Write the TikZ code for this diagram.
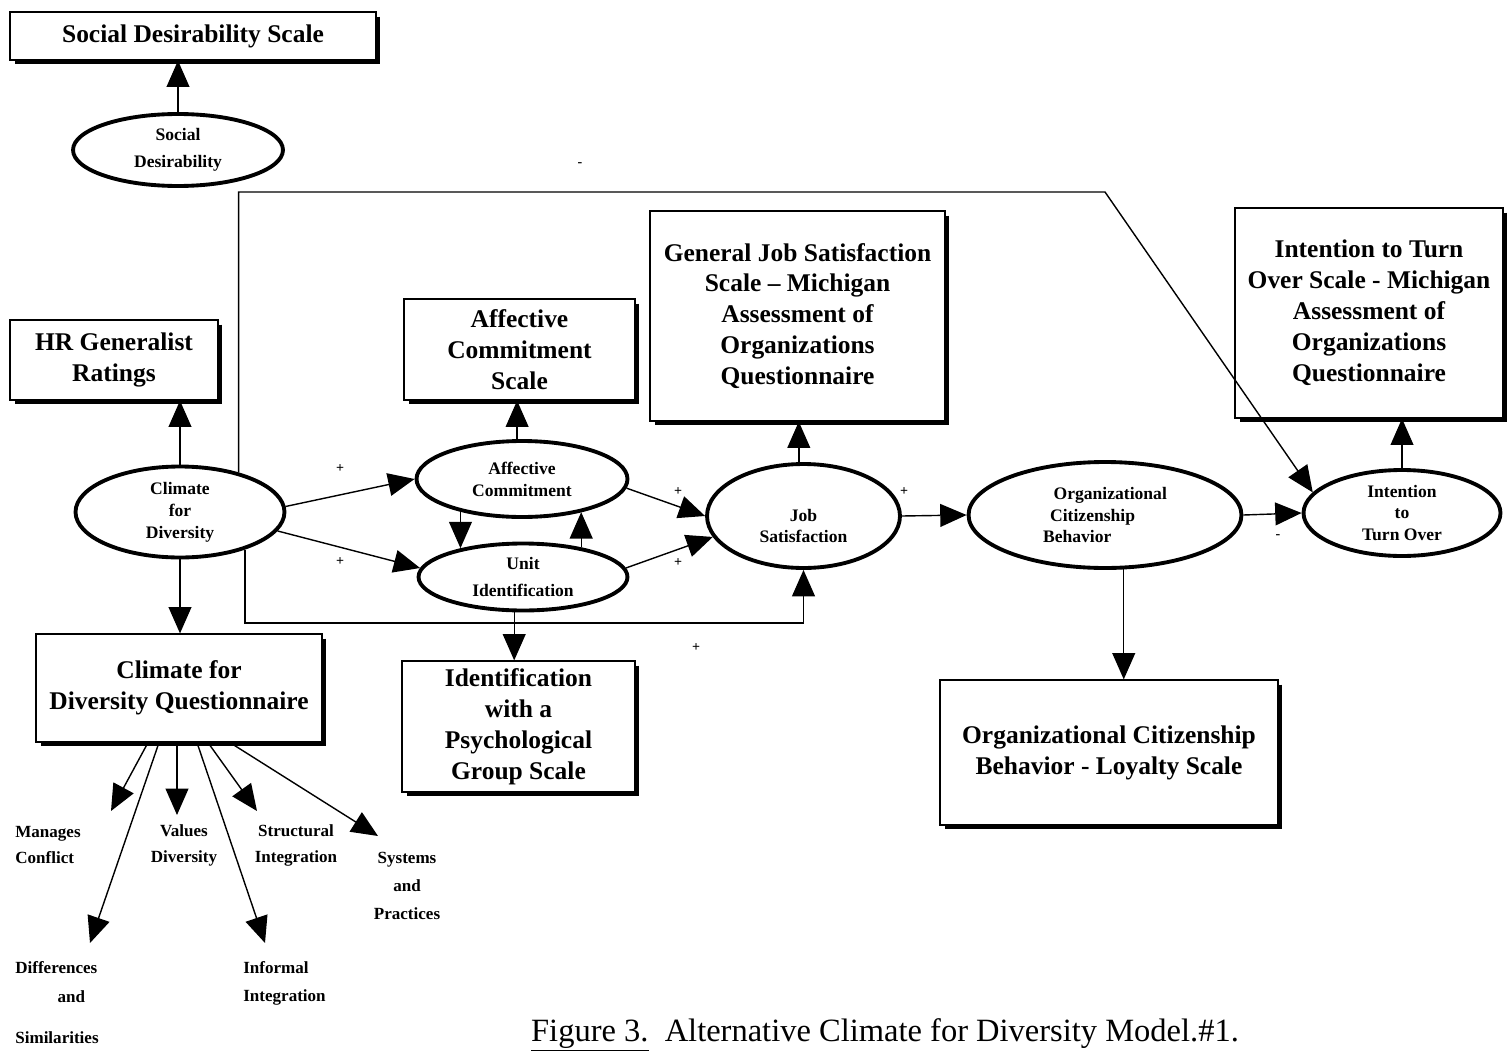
\documentclass[tikz,border=0pt]{standalone}
\usepackage{fontspec}
\setmainfont{Liberation Serif}
\usetikzlibrary{shapes.geometric,arrows.meta,calc}
\newcommand\bxfont{\bfseries\fontsize{14.5}{17.6}\selectfont}
\newcommand\ovfont{\bfseries\fontsize{10}{12.5}\selectfont}
\newcommand\tgfont{\bfseries\fontsize{9.7}{14.8}\selectfont}
\newcommand\sgfont{\bfseries\fontsize{8}{9}\selectfont}
\newcommand\capfont{\fontsize{18.5}{22}\selectfont}
\begin{document}
\begin{tikzpicture}[x=0.02cm,y=-0.02cm,
  box/.style={draw,line width=0.7pt,align=center,font=\bxfont,inner sep=0pt},
  oval/.style={ellipse,draw,line width=2.2pt,align=center,font=\ovfont,inner sep=0pt},
  arr/.style={-{Triangle[length=15pt,width=13pt]},line width=0.8pt},
  sign/.style={font=\sgfont,inner sep=0pt},
  tag/.style={font=\tgfont,inner sep=0pt},
  boxshadow/.style={line width=2.2pt}]
\useasboundingbox (0,0) rectangle (1510,1051);

% measurement boxes
\node[box,minimum width=7.32cm,minimum height=0.96cm] (sds) at (193,36) {Social Desirability Scale};
\node[box,minimum width=4.16cm,minimum height=1.6cm] (hr) at (114,360) {HR Generalist\\Ratings};
\node[box,minimum width=5.72cm,minimum height=2.16cm] (cfdq) at (179,688) {Climate for\\Diversity Questionnaire};
\node[box,minimum width=4.62cm,minimum height=2.02cm] (acs) at (519.5,349.5) {Affective\\Commitment\\Scale};
\node[box,minimum width=4.66cm,minimum height=2.62cm] (igs) at (518.5,726.5) {Identification\\with a\\Psychological\\Group Scale};
\node[box,minimum width=5.9cm,minimum height=4.2cm] (gjs) at (797.5,316) {General Job Satisfaction\\Scale -- Michigan\\Assessment of\\Organizations\\Questionnaire};
\node[box,minimum width=5.36cm,minimum height=4.2cm] (itos) at (1369,313) {Intention to Turn\\Over Scale - Michigan\\Assessment of\\Organizations\\Questionnaire};
\node[box,minimum width=6.76cm,minimum height=2.9cm] (ocbl) at (1109,752.5) {Organizational Citizenship\\Behavior - Loyalty Scale};

% heavy right and bottom edges of the boxes
\foreach \n in {sds,hr,cfdq,acs,igs,gjs,itos,ocbl}
  \draw[boxshadow] ([xshift=1pt,yshift=-3pt]\n.north east) -- ([xshift=1pt,yshift=-1pt]\n.south east) -- ([xshift=3pt,yshift=-1pt]\n.south west);

% latent constructs
\node[oval,minimum width=4.2cm,minimum height=1.44cm] (sd) at (178,150) {Social\\[3pt]Desirability};
\node[oval,minimum width=4.18cm,minimum height=1.82cm] (cfd) at (180,512) {Climate\\for\\Diversity};
\node[oval,minimum width=4.22cm,minimum height=1.52cm] (ac) at (522,479) {Affective\\Commitment};
\node[oval,minimum width=4.18cm,minimum height=1.34cm] (ui) at (523,577) {Unit\\[3pt]Identification};
\node[oval,minimum width=3.86cm,minimum height=2.08cm,
      label={[font=\ovfont,align=center,yshift=-0.2cm]center:{Job\\Satisfaction}}] (js) at (803.5,516) {};
\node[oval,minimum width=5.46cm,minimum height=2.12cm,align=left] (ocb) at (1105,515) {\hspace*{6pt}Organizational\\\hspace*{4pt}Citizenship\\Behavior};
\node[oval,minimum width=3.94cm,minimum height=1.72cm] (ito) at (1402,513) {Intention\\to\\Turn Over};

% paths between constructs and measures
\draw[arr] (sd.north) -- (sd.north |- sds.south);
\draw[arr] (cfd.north) -- (cfd.north |- hr.south);
\draw[arr] (cfd.south) -- (cfd.south |- cfdq.north);
\draw[arr] (cfd.3) -- (ac.west);
\draw[arr] (cfd.-11) -- (ui.175);
\draw[arr] (ac.97) -- (ac.97 |- acs.south);
\draw[arr] (ac.208) -- (ac.208 |- ui.155);
\draw[arr] (ui.27) -- (ui.27 |- ac.-29);
\draw[arr] (ui.-104) -- (ui.-104 |- igs.north);
\draw[arr] (ac.-5) -- (js.west);
\draw[arr] (ui.5) -- (js.193);
\draw[arr] (js.95) -- (js.95 |- gjs.south);
\draw[arr] (js.east) -- (ocb.west);
\draw[arr] (ocb.-71) -- (ocb.-71 |- ocbl.north);
\draw[arr] (ocb.east) -- (ito.west);
\draw[arr] (ito.north) -- (ito.north |- itos.south);
\coordinate (bend) at (1105,192);
\draw[arr] (cfd.34) |- (bend) -- (ito.167);
\coordinate (lowy) at (0,623);
\draw[arr] (cfd.-30) |- (js.south |- lowy) -- (js.south);

% path signs
\node[sign] (p1) at (340,469) {+};
\node[sign] (p2) at (340,562) {+};
\node[sign] (p3) at (678,492) {+};
\node[sign] (p4) at (678,563) {+};
\node[sign] (p5) at (904,492) {+};
\node[sign] (p6) at (696,648) {+};
\node[sign] (m1) at (580,165) {-};
\node[sign] (m2) at (1278,537) {-};

% facets of the climate questionnaire
\coordinate (tmc) at (111,811);
\coordinate (tdf) at (90,943);
\coordinate (tvd) at (177,815);
\coordinate (tsi) at (257,811);
\coordinate (tii) at (265,943);
\coordinate (tsp) at (378,836);
\draw[arr] ($(cfdq.south)+(-31,0)$) -- (tmc);
\draw[arr] ($(cfdq.south)+(-20,0)$) -- (tdf);
\draw[arr] ($(cfdq.south)+(-2,0)$) -- (tvd);
\draw[arr] ($(cfdq.south)+(18,0)$) -- (tii);
\draw[arr] ($(cfdq.south)+(29,0)$) -- (tsi);
\draw[arr] ($(cfdq.south)+(51,0)$) -- (tsp);

\node[tag,align=left,anchor=west] (lmc) at (15,845) {Manages\\Conflict};
\node[tag,align=center] (lvd) at (184,845) {Values\\Diversity};
\node[tag,align=center] (lsi) at (296,845) {Structural\\Integration};
\node[tag,align=center] (lsp) at (407,886) {Systems\\[1.2pt]and\\[1.2pt]Practices};
\node[tag,align=left,anchor=west] (ldf) at (15,1003) {Differences\\[1.2pt]\hspace*{24pt}and\\[9pt]Similarities};
\node[tag,align=left,anchor=west] (lii) at (243,983) {Informal\\[1.2pt]Integration};

% caption
\node[font=\capfont,inner sep=0pt] (cap) at (885,1035) {\underline{Figure 3.}\ \ Alternative Climate for Diversity Model.\#1.};
\end{tikzpicture}
\end{document}
